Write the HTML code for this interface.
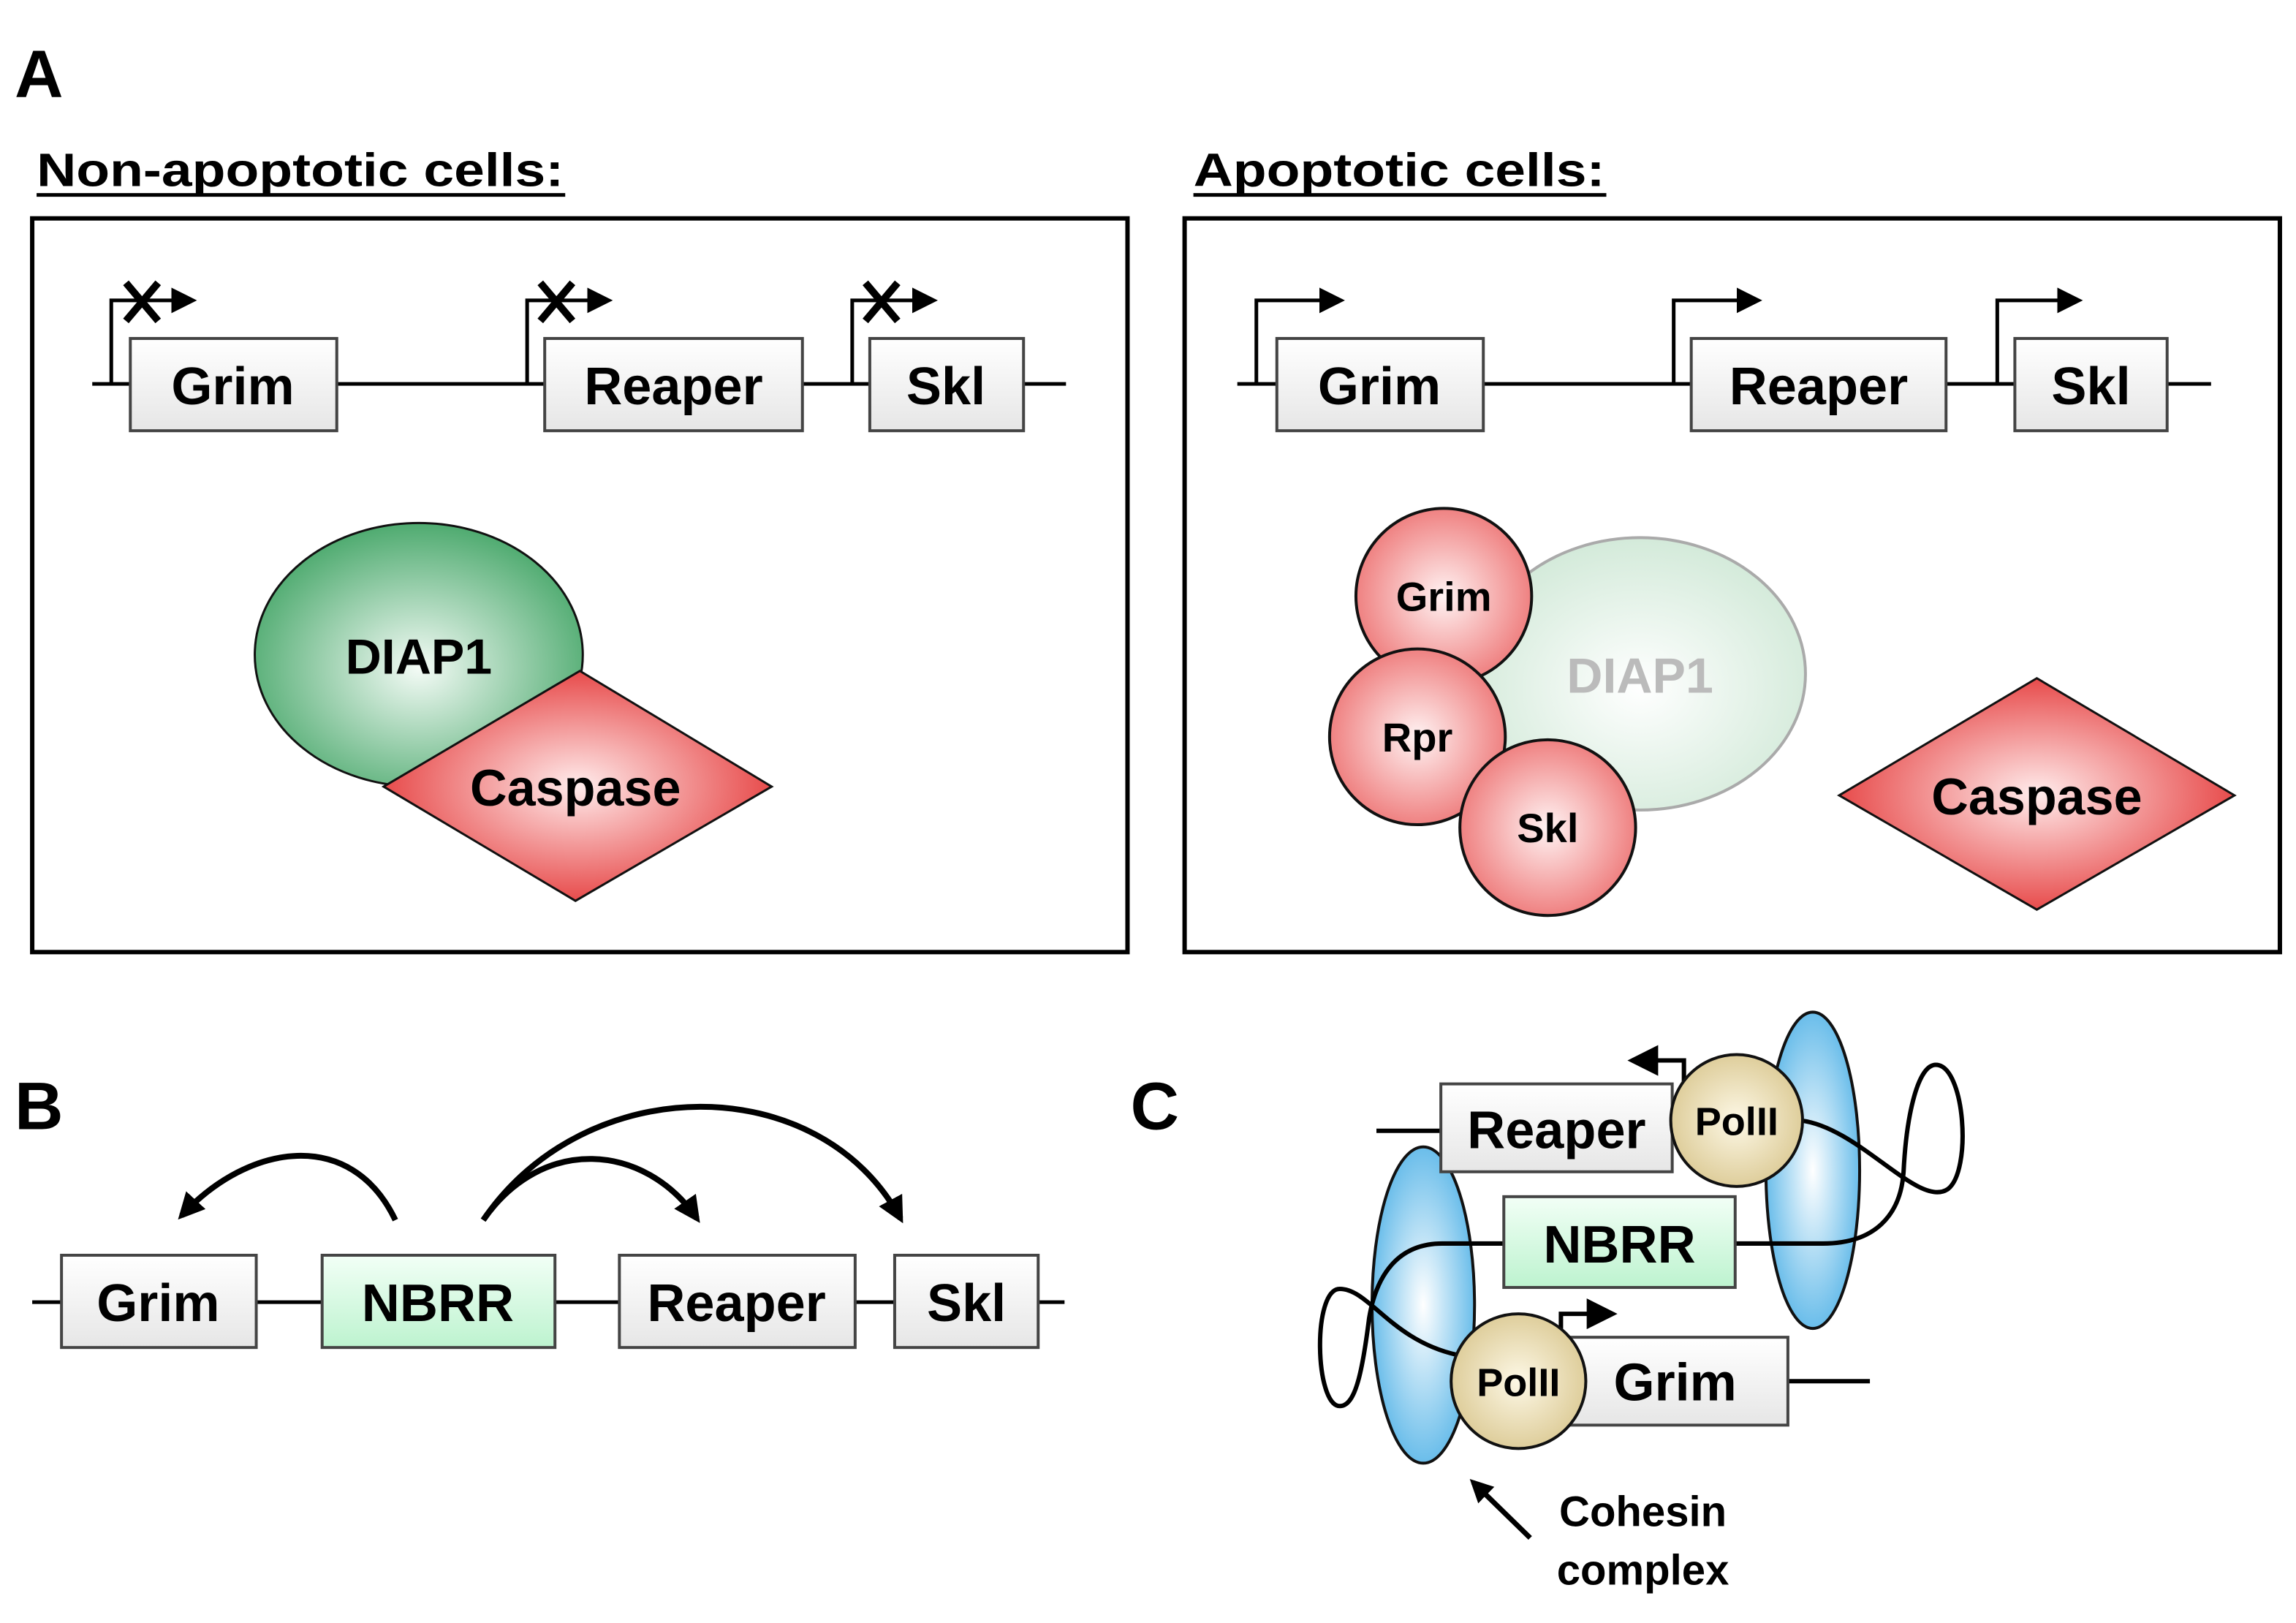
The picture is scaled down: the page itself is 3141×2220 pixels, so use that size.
<!DOCTYPE html>
<html><head><meta charset="utf-8"><style>html,body{margin:0;padding:0;background:#fff}svg{display:block}</style></head><body>
<svg width="3141" height="2220" viewBox="0 0 1568 1108" xmlns="http://www.w3.org/2000/svg" font-family="Liberation Sans, Arial, sans-serif" font-weight="bold">
<defs>
<linearGradient id="gb" x1="0" y1="0" x2="0" y2="1"><stop offset="0" stop-color="#ffffff"/><stop offset="1" stop-color="#e6e6e6"/></linearGradient>
<linearGradient id="gn" x1="0" y1="0" x2="0" y2="1"><stop offset="0" stop-color="#f2fff6"/><stop offset="1" stop-color="#bdf3cf"/></linearGradient>
<radialGradient id="gg" cx="0.5" cy="0.55" r="0.6"><stop offset="0" stop-color="#f4fbf6"/><stop offset="1" stop-color="#3fa363"/></radialGradient>
<radialGradient id="gf" cx="0.5" cy="0.55" r="0.6"><stop offset="0" stop-color="#ffffff"/><stop offset="1" stop-color="#cfe8d6"/></radialGradient>
<radialGradient id="gr" cx="0.5" cy="0.5" r="0.6"><stop offset="0" stop-color="#fff3f3"/><stop offset="1" stop-color="#ec6a6a"/></radialGradient>
<radialGradient id="gd" cx="0.5" cy="0.5" r="0.55"><stop offset="0" stop-color="#ffecec"/><stop offset="1" stop-color="#e53b3b"/></radialGradient>
<radialGradient id="gy" cx="0.5" cy="0.5" r="0.6"><stop offset="0" stop-color="#fdf8e6"/><stop offset="1" stop-color="#d8c58c"/></radialGradient>
<radialGradient id="gc" cx="0.5" cy="0.5" r="0.6"><stop offset="0" stop-color="#ffffff"/><stop offset="1" stop-color="#4cb0e6"/></radialGradient>
<marker id="ah" viewBox="0 0 10 10" refX="8" refY="5" markerWidth="4.5" markerHeight="4.5" orient="auto"><path d="M0,0L10,5L0,10z" fill="#000"/></marker>
<marker id="ah2" viewBox="0 0 10 10" refX="4" refY="5" markerWidth="7" markerHeight="7" orient="auto"><path d="M0,0L10,5L0,10z" fill="#000"/></marker>
</defs>
<g font-size="46"><text x="10" y="66">A</text><text x="10" y="771">B</text><text x="772" y="771">C</text></g>
<text x="25" y="127" font-size="32" textLength="360" lengthAdjust="spacingAndGlyphs">Non-apoptotic cells:</text><line x1="25" y1="133" x2="386" y2="133" stroke="#000" stroke-width="2.5"/>
<text x="815" y="127" font-size="32" textLength="281" lengthAdjust="spacingAndGlyphs">Apoptotic cells:</text><line x1="815" y1="133" x2="1097" y2="133" stroke="#000" stroke-width="2.5"/>
<rect x="22" y="149" width="748" height="501" fill="none" stroke="#000" stroke-width="3"/>
<rect x="809" y="149" width="748" height="501" fill="none" stroke="#000" stroke-width="3"/>
<g stroke="#000" stroke-width="2.5" fill="none">
<line x1="63" y1="262" x2="728" y2="262"/><line x1="845" y1="262" x2="1510" y2="262"/>
<path d="M76,262V205H124" marker-end="url(#ah2)"/><path d="M360,262V205H408" marker-end="url(#ah2)"/><path d="M582,262V205H630" marker-end="url(#ah2)"/>
<path d="M858,262V205H908" marker-end="url(#ah2)"/><path d="M1143,262V205H1193" marker-end="url(#ah2)"/><path d="M1364,262V205H1412" marker-end="url(#ah2)"/>
</g>
<g stroke="#000" stroke-width="5"><path d="M86,193L108,219M108,193L86,219"/><path d="M369,193L391,219M391,193L369,219"/><path d="M591,193L613,219M613,193L591,219"/></g>
<g stroke="#444" stroke-width="2" fill="url(#gb)">
<rect x="89" y="231" width="141" height="63"/><rect x="372" y="231" width="176" height="63"/><rect x="594" y="231" width="105" height="63"/>
<rect x="872" y="231" width="141" height="63"/><rect x="1155" y="231" width="174" height="63"/><rect x="1376" y="231" width="104" height="63"/>
</g>
<g font-size="36" text-anchor="middle">
<text x="159" y="276">Grim</text><text x="460" y="276">Reaper</text><text x="646" y="276">Skl</text>
<text x="942" y="276">Grim</text><text x="1242" y="276">Reaper</text><text x="1428" y="276">Skl</text>
</g>
<ellipse cx="286" cy="447" rx="112" ry="90" fill="url(#gg)" stroke="#111" stroke-width="1.5"/>
<path d="M262,537L396,458L527,537L393,615Z" fill="url(#gd)" stroke="#111" stroke-width="1.5"/>
<text x="286" y="460" font-size="34" text-anchor="middle">DIAP1</text>
<text x="393" y="550" font-size="35" text-anchor="middle">Caspase</text>
<ellipse cx="1120" cy="460" rx="113" ry="93" fill="url(#gf)" stroke="#aaa" stroke-width="2"/>
<text x="1120" y="473" font-size="34" text-anchor="middle" fill="#bbb">DIAP1</text>
<g stroke="#111" stroke-width="2" fill="url(#gr)"><circle cx="986" cy="407" r="60"/><circle cx="968" cy="503" r="60"/><circle cx="1057" cy="565" r="60"/></g>
<g font-size="28" text-anchor="middle"><text x="986" y="417">Grim</text><text x="968" y="513">Rpr</text><text x="1057" y="575">Skl</text></g>
<path d="M1256,543L1391,463L1526,543L1391,621Z" fill="url(#gd)" stroke="#111" stroke-width="1.5"/>
<text x="1391" y="556" font-size="35" text-anchor="middle">Caspase</text>
<!-- B -->
<line x1="22" y1="889" x2="727" y2="889" stroke="#000" stroke-width="2.5"/>
<g stroke="#444" stroke-width="2"><rect x="42" y="857" width="133" height="63" fill="url(#gb)"/><rect x="220" y="857" width="159" height="63" fill="url(#gn)"/><rect x="423" y="857" width="161" height="63" fill="url(#gb)"/><rect x="611" y="857" width="98" height="63" fill="url(#gb)"/></g>
<g font-size="36" text-anchor="middle"><text x="108" y="902">Grim</text><text x="299" y="902">NBRR</text><text x="503" y="902">Reaper</text><text x="660" y="902">Skl</text></g>
<g stroke="#000" stroke-width="4" fill="none">
<path d="M270,833C240,770 170,780 124,830" marker-end="url(#ah)"/>
<path d="M330,833C370,775 440,780 476,832" marker-end="url(#ah)"/>
<path d="M330,833C400,730 560,730 615,832" marker-end="url(#ah)"/>
</g>
<!-- C -->
<ellipse cx="972" cy="891" rx="35" ry="108" fill="url(#gc)" stroke="#111" stroke-width="2"/>
<ellipse cx="1238" cy="799" rx="32" ry="108" fill="url(#gc)" stroke="#111" stroke-width="2"/>
<g stroke="#000" stroke-width="3" fill="none">
<line x1="940" y1="772" x2="984" y2="772"/><line x1="1221" y1="943" x2="1277" y2="943"/>
<path d="M1185,849H1245C1280,849 1298,830 1300,800C1302,760 1310,727 1322,727C1342,727 1347,800 1330,812C1310,825 1270,770 1230,765"/>
<path d="M1027,849H985C955,849 940,870 935,900C930,940 925,960 915,960C898,960 896,880 915,880C935,880 950,915 995,925"/>
<path d="M1150,740V724H1124" marker-end="url(#ah2)"/>
<path d="M1066,913V897H1092" marker-end="url(#ah2)"/>
</g>
<rect x="984" y="740" width="158" height="60" fill="url(#gb)" stroke="#444" stroke-width="2"/>
<rect x="1027" y="817" width="158" height="62" fill="url(#gn)" stroke="#444" stroke-width="2"/>
<rect x="1072" y="913" width="149" height="60" fill="url(#gb)" stroke="#444" stroke-width="2"/>
<circle cx="1186" cy="765" r="45" fill="url(#gy)" stroke="#111" stroke-width="2"/>
<circle cx="1037" cy="943" r="46" fill="url(#gy)" stroke="#111" stroke-width="2"/>
<g text-anchor="middle"><text x="1063" y="784" font-size="36">Reaper</text><text x="1106" y="862" font-size="36">NBRR</text><text x="1144" y="956" font-size="36">Grim</text>
<text x="1186" y="775" font-size="27">PolII</text><text x="1037" y="953" font-size="27">PolII</text>
<text x="1122" y="1042" font-size="29">Cohesin</text><text x="1122" y="1082" font-size="29">complex</text></g>
<path d="M1045,1050L1006,1012" stroke="#000" stroke-width="3.5" marker-end="url(#ah)"/>
</svg>
</body></html>
